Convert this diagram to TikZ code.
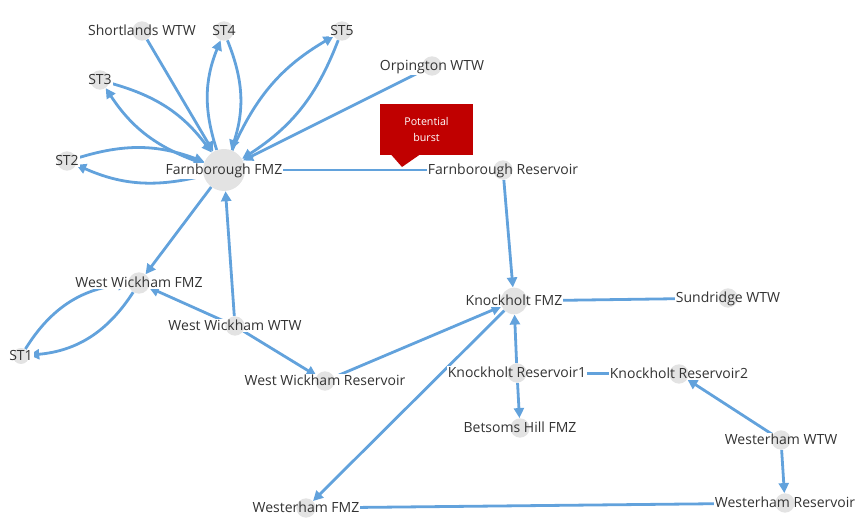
\documentclass[tikz,border=0pt]{standalone}
\usepackage{fontspec}
\setmainfont{Open Sans}
\usetikzlibrary{arrows.meta}
\definecolor{edgeblue}{HTML}{62A2DC}
\definecolor{dotgrey}{HTML}{E3E3E3}
\definecolor{labelgrey}{HTML}{333333}
\definecolor{burstred}{HTML}{C00000}
\pgfdeclarelayer{edgelayer}
\pgfdeclarelayer{halolayer}
\pgfdeclarelayer{textlayer}
\pgfsetlayers{edgelayer,halolayer,main,textlayer}
\newcommand\lblfont{\fontsize{10.5}{12}\selectfont}
\tikzset{
  dot/.style={circle, fill=dotgrey, draw=none, minimum size=14.5pt, inner sep=0pt},
  lbl/.style={text=labelgrey, font=\lblfont, inner sep=0pt, text height=0.72em, text depth=0pt},
  halo/.style={fill=white, text=white, font=\lblfont, inner sep=0.8pt, anchor=base},
  flow/.style={draw=edgeblue, line width=2.1pt, -{Triangle[length=7.5pt,width=7.5pt]}},
  burstbox/.style={fill=burstred, text=white, font=\fontsize{8}{12}\selectfont, align=center,
    minimum width=69.75pt, minimum height=38.25pt, inner sep=0pt},
}
\newcommand\mylabel[2]{%
  \begin{pgfonlayer}{textlayer}\node[lbl] (#1-l) at (#1) {#2};\end{pgfonlayer}%
  \begin{pgfonlayer}{halolayer}\node[halo] (#1-h) at (#1-l.base) {#2};\end{pgfonlayer}}
\begin{document}
\begin{tikzpicture}[x=0.75pt, y=0.75pt]
\useasboundingbox (0,0) rectangle (867,527);
% nodes (circles)
\node[dot] (shortlands) at (142,496) {};
\node[dot] (st4) at (224,496) {};
\node[dot] (st5) at (342,496) {};
\node[dot] (orpington) at (432,461) {};
\node[dot] (st3) at (100,447) {};
\node[dot] (st2) at (67,366) {};
\node[dot, minimum size=31.5pt] (ffmz) at (224,357) {};
\node[dot] (fres) at (503,357) {};
\node[dot, minimum size=16pt] (wwfmz) at (139,244) {};
\node[dot] (wwwtw) at (235,201) {};
\node[dot, minimum size=12pt] (st1) at (21,171) {};
\node[dot] (wwres) at (325,146) {};
\node[dot, minimum size=20pt] (kfmz) at (514,226) {};
\node[dot] (sundridge) at (728,229) {};
\node[dot] (kres1) at (517,154) {};
\node[dot] (kres2) at (679,153) {};
\node[dot] (betsoms) at (520,99) {};
\node[dot] (wwtw) at (781,87) {};
\node[dot] (wres) at (785,24) {};
\node[dot] (wfmz) at (306,19) {};
% labels
\mylabel{shortlands}{Shortlands WTW}
\mylabel{st4}{ST4}
\mylabel{st5}{ST5}
\mylabel{orpington}{Orpington WTW}
\mylabel{st3}{ST3}
\mylabel{st2}{ST2}
\mylabel{ffmz}{Farnborough FMZ}
\mylabel{fres}{Farnborough Reservoir}
\mylabel{wwfmz}{West Wickham FMZ}
\mylabel{wwwtw}{West Wickham WTW}
\mylabel{st1}{ST1}
\mylabel{wwres}{West Wickham Reservoir}
\mylabel{kfmz}{Knockholt FMZ}
\mylabel{sundridge}{Sundridge WTW}
\mylabel{kres1}{Knockholt Reservoir1}
\mylabel{kres2}{Knockholt Reservoir2}
\mylabel{betsoms}{Betsoms Hill FMZ}
\mylabel{wwtw}{Westerham WTW}
\mylabel{wres}{Westerham Reservoir}
\mylabel{wfmz}{Westerham FMZ}
% edges
\begin{pgfonlayer}{edgelayer}
\draw[flow] (shortlands) -- (ffmz);
\draw[flow] (ffmz) to[bend left=20] (st4);
\draw[flow] (st4) to[bend left=20] (ffmz);
\draw[flow] (ffmz) to[bend left=18] (st5);
\draw[flow] (st5) to[bend left=18] (ffmz);
\draw[flow] (orpington) -- (ffmz);
\draw[flow] (st3) to[bend left=19] (ffmz);
\draw[flow] (ffmz) to[bend left=19] (st3);
\draw[flow] (st2) to[bend left=19] (ffmz);
\draw[flow] (ffmz) to[bend left=19] (st2);
\draw[flow] (fres) -- (ffmz);
\draw[flow] (ffmz) -- (wwfmz);
\draw[flow] (wwwtw) -- (ffmz);
\draw[flow] (wwwtw) -- (wwfmz);
\draw[flow] (wwwtw) -- (wwres);
\draw[flow] (st1) to[bend left=26] (wwfmz);
\draw[flow] (wwfmz) to[bend left=26] (st1);
\draw[flow] (wwres) -- (kfmz);
\draw[flow] (fres) -- (kfmz);
\draw[flow] (kfmz) -- (wfmz);
\draw[flow] (sundridge) -- (kfmz);
\draw[flow] (kres1) -- (kfmz);
\draw[flow] (kres1) -- (betsoms);
\draw[flow] (kres2) -- (kres1);
\draw[flow] (wwtw) -- (kres2);
\draw[flow] (wwtw) -- (wres);
\draw[flow] (wres) -- (wfmz);
\end{pgfonlayer}
% callout
\begin{pgfonlayer}{textlayer}
\node[burstbox] (burst) at (426.5,397.5) {Potential\\burst};
\coordinate (tipL) at (391,372.5);
\coordinate (tipR) at (420,372.5);
\coordinate (tip) at (402,360);
\fill[burstred] (tipL) -- (tip) -- (tipR) -- cycle;
\end{pgfonlayer}
\end{tikzpicture}
\end{document}
